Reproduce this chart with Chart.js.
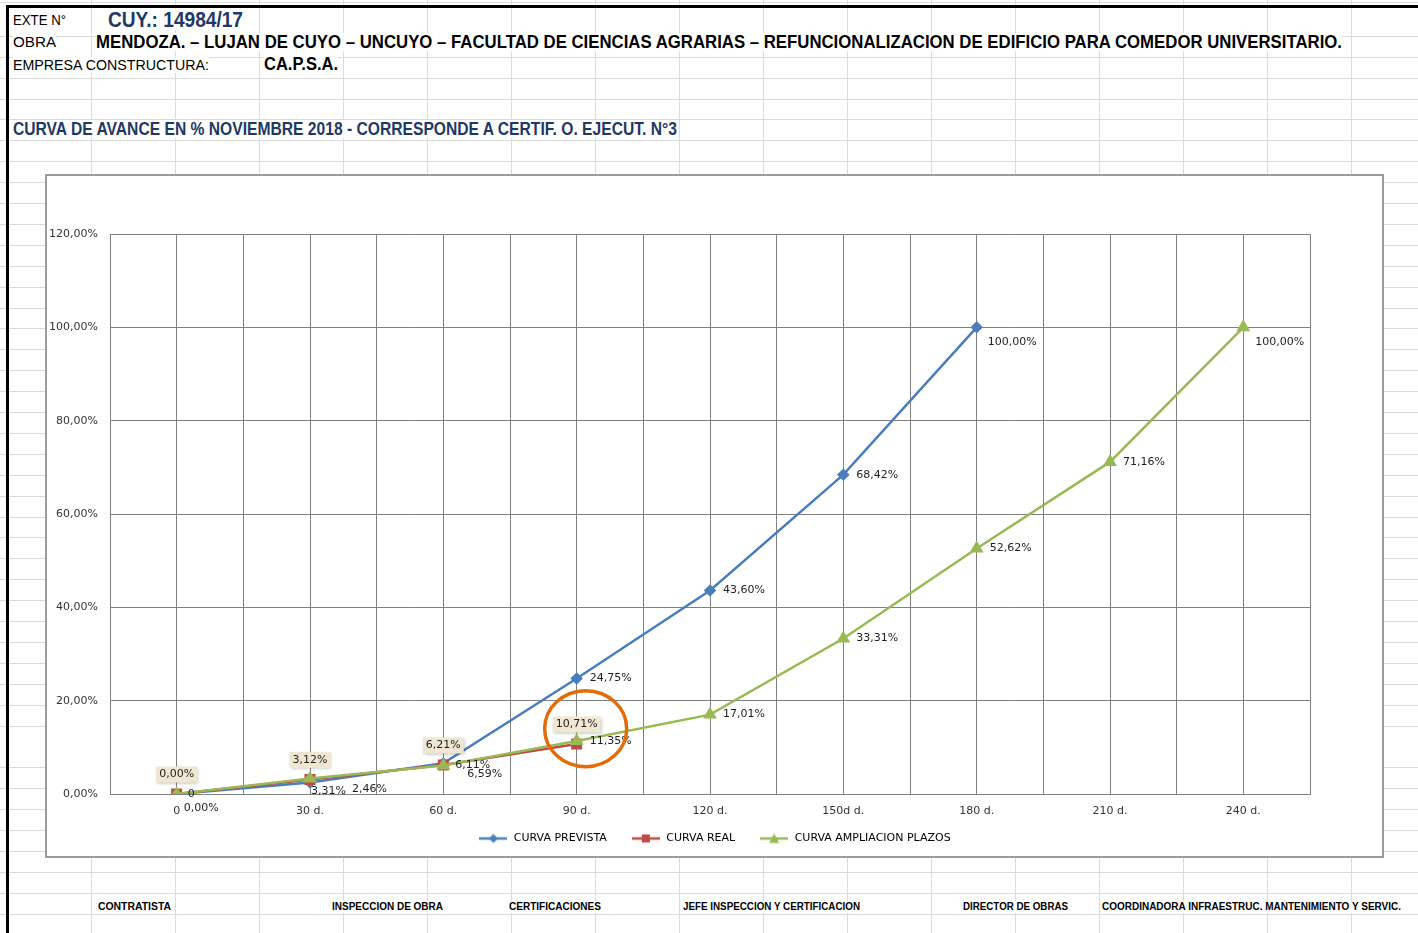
<!DOCTYPE html>
<html>
<head>
<meta charset="utf-8">
<script src="https://cdn.jsdelivr.net/npm/chart.js@4.4.0/dist/chart.umd.min.js"></script>
<style>
html, body { margin: 0; padding: 0; }
body {
    width: 1418px; height: 933px; overflow: hidden; position: relative;
    background-color: #fff;
    background-image:
        repeating-linear-gradient(to right, transparent 0 83px, #dadada 83px 84px),
        repeating-linear-gradient(to bottom, transparent 0 19.9px, #dadada 19.9px 20.9px);
    background-position: 8px 0, 0 16px;
}
.bar { position: absolute; background: #000; z-index: 2; }
.t {
    position: absolute; white-space: nowrap; background: #fff;
    transform-origin: 0 50%;
    font-family: "Liberation Sans Narrow", "Liberation Sans", Arial, sans-serif;
    color: #000;
}
.b { font-weight: bold; }
.navy { color: #1f3864; }
.foot { font-size: 10px; font-weight: bold; line-height: 12px; }
#box {
    position: absolute; left: 45px; top: 174px; width: 1339px; height: 684px;
    box-sizing: border-box; border: 2px solid #9c9c9c; background: #fff;
}
#chart { position: absolute; left: 0; top: 0; }
</style>
</head>
<body>
<div class="bar" style="left:6px; top:5px; right:0; height:3px"></div>
<div class="bar" style="left:6px; top:5px; bottom:0; width:3px"></div>

<span class="t" data-w="53" style="left:13px; top:12px; font-size:15px; line-height:16px">EXTE N°</span>
<span class="t b navy" data-w="135" style="left:108px; top:9px; font-size:22px; line-height:21px">CUY.: 14984/17</span>
<span class="t" data-w="43" style="left:13px; top:34px; font-size:15px; line-height:16px">OBRA</span>
<span class="t b" data-w="1246" style="left:96px; top:33px; font-size:17.5px; line-height:18px">MENDOZA. – LUJAN DE CUYO – UNCUYO – FACULTAD DE CIENCIAS AGRARIAS – REFUNCIONALIZACION DE EDIFICIO PARA COMEDOR UNIVERSITARIO.</span>
<span class="t" data-w="196" style="left:13px; top:57px; font-size:14px; line-height:16px">EMPRESA CONSTRUCTURA:</span>
<span class="t b" data-w="74" style="left:264px; top:55px; font-size:17.5px; line-height:18px">CA.P.S.A.</span>
<span class="t b navy" data-w="664" style="left:13px; top:120px; font-size:17.5px; line-height:18px">CURVA DE AVANCE EN % NOVIEMBRE 2018 - CORRESPONDE A CERTIF. O. EJECUT. N°3</span>

<span class="t foot" data-w="73" style="left:98px; top:901px">CONTRATISTA</span>
<span class="t foot" data-w="111" style="left:332px; top:901px">INSPECCION DE OBRA</span>
<span class="t foot" data-w="92" style="left:509px; top:901px">CERTIFICACIONES</span>
<span class="t foot" data-w="177" style="left:683px; top:901px">JEFE INSPECCION Y CERTIFICACION</span>
<span class="t foot" data-w="105" style="left:963px; top:901px">DIRECTOR DE OBRAS</span>
<span class="t foot" data-w="299" style="left:1102px; top:901px">COORDINADORA INFRAESTRUC. MANTENIMIENTO Y SERVIC.</span>

<div id="box"><canvas id="chart" width="1335" height="680"></canvas></div>

<script>
// datos de la curva de avance (en %)
const categorias = ["0", "30 d.", "60 d.", "90 d.", "120 d.", "150d d.", "180 d.", "210 d.", "240 d."]
const curvaPrevista = [0, 2.46, 6.59, 24.75, 43.60, 68.42, 100]
const curvaReal = [0, 3.12, 6.21, 10.71]
const curvaAmpliacion = [0, 3.31, 6.11, 11.35, 17.01, 33.31, 52.62, 71.16, 100]
const yMax = 120
const yPaso = 20

// ajustar ancho de los textos de la planilla
document.querySelectorAll("[data-w]").forEach(el => {
    const w = el.getBoundingClientRect().width
    el.style.transform = `scaleX(${+el.dataset.w / w})`
})

const pct = v => v.toFixed(2).replace(".", ",") + "%"
const toXY = arr => arr.map((v, i) => ({x: i, y: v}))

const AZUL = "#4a7ebb"
const ROJO = "#be4b48"
const VERDE = "#98b954"
const GRILLA = "#808080"
const FUENTE = "DejaVu Sans"

// posicion de las etiquetas (desplazamientos respecto del punto)
const etiquetas = [
    {fmt: v => v === 0 ? "0" : pct(v), def: [13, 0], over: {0: [11, 0], 1: [42, 7], 2: [24, 11], 6: [11, 15]}},
    {fmt: pct, caja: true, def: [0, -19.5], over: {}},
    {fmt: pct, def: [13, 0], over: {0: [7, 14], 1: [1, 13], 2: [12, 0], 8: [12, 15]}}
]

const marca = (color, forma) => {
    const c = document.createElement("canvas")
    c.width = 28
    c.height = 12
    const g = c.getContext("2d")
    g.strokeStyle = color
    g.lineWidth = 2.5
    g.beginPath()
    g.moveTo(0, 6)
    g.lineTo(28, 6)
    g.stroke()
    g.fillStyle = color
    g.beginPath()
    if (forma === "rombo") {
        g.moveTo(14, 1.5); g.lineTo(18.5, 6); g.lineTo(14, 10.5); g.lineTo(9.5, 6)
    } else if (forma === "cuadro") {
        g.rect(10, 2, 8, 8)
    } else {
        g.moveTo(14, 1); g.lineTo(19, 10.5); g.lineTo(9, 10.5)
    }
    g.closePath()
    g.fill()
    return c
}
const marcas = [marca(AZUL, "rombo"), marca(ROJO, "cuadro"), marca(VERDE, "triangulo")]

// leyenda mas baja y subida, como en la planilla
const pluginLeyenda = {
    id: "leyendaCompacta",
    beforeLayout(chart) {
        const lg = chart.legend
        if (!lg || lg._compacta) return
        const fit = lg.fit
        lg.fit = function () { fit.call(this); this.height = 35 }
        const draw = lg.draw
        lg.draw = function () {
            this.ctx.save()
            this.ctx.translate(0, -12)
            draw.call(this)
            this.ctx.restore()
        }
        lg._compacta = true
    }
}

const pluginEtiquetas = {
    id: "etiquetas",
    afterDatasetsDraw(chart) {
        const ctx = chart.ctx
        ctx.save()
        ctx.font = `11px "${FUENTE}"`
        ctx.textBaseline = "middle"
        chart.data.datasets.forEach((ds, di) => {
            const cfg = etiquetas[di]
            chart.getDatasetMeta(di).data.forEach((pt, i) => {
                const txt = cfg.fmt(ds.data[i].y)
                const [dx, dy] = cfg.over[i] || cfg.def
                const x = pt.x + dx
                const y = pt.y + dy
                if (cfg.caja) {
                    const w = ctx.measureText(txt).width + 6
                    ctx.save()
                    ctx.shadowColor = "rgba(0,0,0,0.25)"
                    ctx.shadowBlur = 3
                    ctx.shadowOffsetX = 1
                    ctx.shadowOffsetY = 1
                    ctx.fillStyle = "#efe7d2"
                    ctx.fillRect(x - w / 2, y - 8, w, 16)
                    ctx.restore()
                    ctx.textAlign = "center"
                } else {
                    ctx.textAlign = "left"
                }
                ctx.fillStyle = "#1e1e1e"
                ctx.fillText(txt, x, y)
            })
        })
        // circulo naranja que resalta el avance real
        const xs = chart.scales.x
        const ys = chart.scales.y
        ctx.strokeStyle = "#e36c0a"
        ctx.lineWidth = 3.5
        ctx.beginPath()
        ctx.ellipse(xs.getPixelForValue(3) + 9, ys.getPixelForValue(14), 41, 38, 0, 0, Math.PI * 2)
        ctx.stroke()
        ctx.restore()
    }
}

new Chart(document.getElementById("chart").getContext("2d"), {
    type: "line",
    data: {
        datasets: [{
            label: "CURVA PREVISTA",
            data: toXY(curvaPrevista),
            borderColor: AZUL,
            backgroundColor: AZUL,
            borderWidth: 2.5,
            pointStyle: "rectRot",
            pointRadius: 4.5,
            order: 2
        }, {
            label: "CURVA REAL",
            data: toXY(curvaReal),
            borderColor: ROJO,
            backgroundColor: ROJO,
            borderWidth: 2.5,
            pointStyle: "rect",
            pointRadius: 6,
            order: 1
        }, {
            label: "CURVA AMPLIACION PLAZOS",
            data: toXY(curvaAmpliacion),
            borderColor: VERDE,
            backgroundColor: VERDE,
            borderWidth: 2.5,
            pointStyle: "triangle",
            pointRadius: 5.5,
            order: 0
        }]
    },
    options: {
        responsive: false,
        animation: false,
        layout: {padding: {top: 58, left: 0, right: 0, bottom: 0}},
        plugins: {
            tooltip: {enabled: false},
            legend: {
                position: "bottom",
                labels: {
                    usePointStyle: true,
                    pointStyleWidth: 30,
                    padding: 24,
                    color: "#333",
                    font: {family: FUENTE, size: 11},
                    generateLabels: chart => chart.data.datasets.map((ds, i) => ({
                        text: ds.label,
                        pointStyle: marcas[i],
                        fillStyle: ds.borderColor,
                        strokeStyle: ds.borderColor,
                        lineWidth: 0,
                        hidden: false,
                        datasetIndex: i
                    }))
                }
            }
        },
        scales: {
            x: {
                type: "linear",
                min: -0.5,
                max: categorias.length - 0.5,
                grid: {color: GRILLA, drawTicks: false},
                border: {color: GRILLA},
                ticks: {
                    stepSize: 0.5,
                    autoSkip: false,
                    maxRotation: 0,
                    maxTicksLimit: 100,
                    padding: 11,
                    color: "#333",
                    font: {family: FUENTE, size: 11},
                    callback: v => Number.isInteger(v) ? categorias[v] : ""
                },
                afterFit(s) { s.height = 27 }
            },
            y: {
                min: 0,
                max: yMax,
                grid: {color: GRILLA, drawTicks: false},
                border: {color: GRILLA},
                ticks: {
                    stepSize: yPaso,
                    padding: 12,
                    color: "#333",
                    font: {family: FUENTE, size: 11},
                    callback: v => pct(v)
                },
                afterFit(s) { s.width = 63 }
            },
            y2: {
                position: "right",
                grid: {display: false},
                border: {display: false},
                ticks: {display: false},
                afterFit(s) { s.width = 72 }
            }
        }
    },
    plugins: [pluginLeyenda, pluginEtiquetas]
})
</script>
</body>
</html>
